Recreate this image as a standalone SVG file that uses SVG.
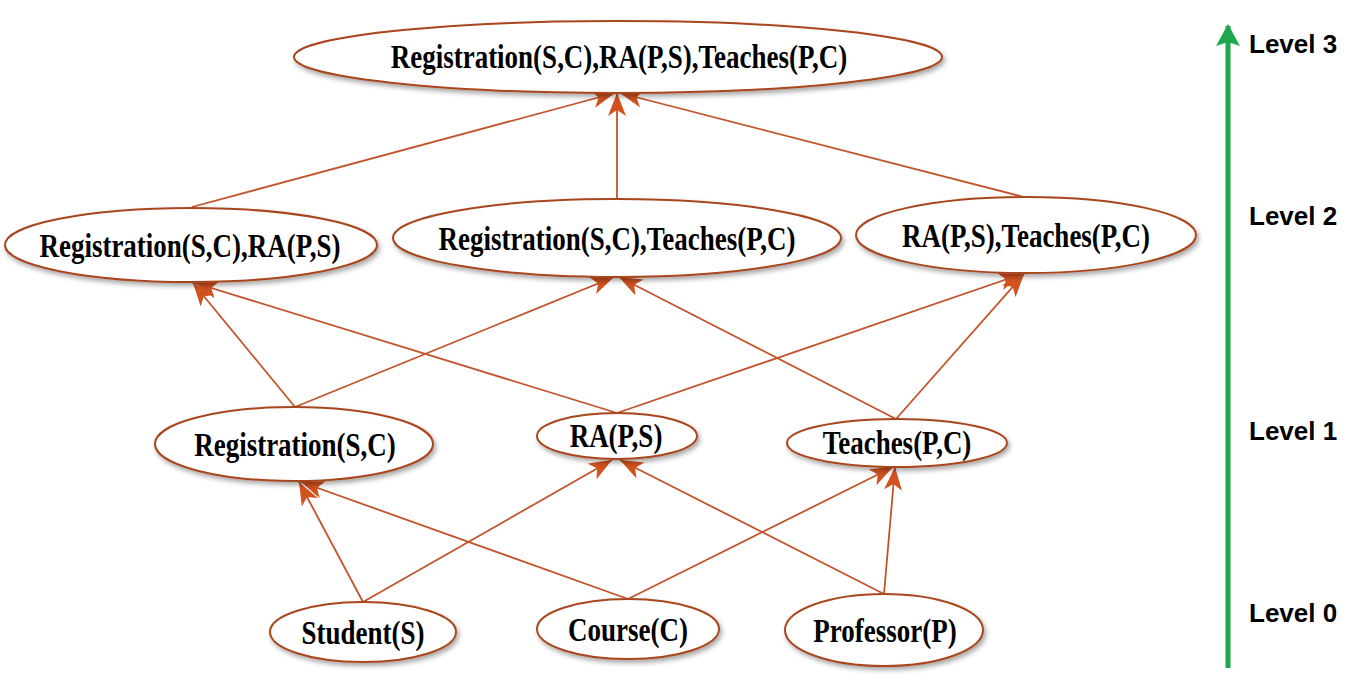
<svg xmlns="http://www.w3.org/2000/svg" width="1367" height="686" viewBox="0 0 1367 686">
<style>
.node ellipse{fill:#fff;stroke:#a9461f;stroke-width:2;filter:url(#sh)}
.node text{font-family:"Liberation Serif","Times New Roman",serif;font-weight:bold;font-size:27px;text-anchor:middle;fill:#000}
.edges line{stroke:#c2542b;stroke-width:1.8;marker-end:url(#ah)}
.lvl{font-family:"Liberation Sans",Arial,sans-serif;font-weight:bold;font-size:26px;fill:#000}
</style>
<defs>
<filter id="sh" x="-10%" y="-20%" width="120%" height="150%">
<feDropShadow dx="2" dy="3" stdDeviation="2.5" flood-color="#000" flood-opacity="0.35"/>
</filter>
<marker id="ah" markerUnits="userSpaceOnUse" markerWidth="26" markerHeight="20" refX="23" refY="9" orient="auto">
<path d="M0,0 L23,9 L0,18 L6,9 z" fill="#d2521e"/>
</marker>
<marker id="gh" markerUnits="userSpaceOnUse" markerWidth="26" markerHeight="26" refX="20" refY="12" orient="auto">
<path d="M0,0 L22,12 L0,24 L4,12 z" fill="#1fa84b"/>
</marker>
</defs>
<rect width="1367" height="686" fill="#fff"/>
<g class="edges">
<line x1="192" y1="207" x2="615" y2="93"/>
<line x1="617" y1="199" x2="617" y2="93"/>
<line x1="1024" y1="197" x2="620" y2="93"/>
<line x1="295" y1="407" x2="193" y2="283"/>
<line x1="295" y1="407" x2="614" y2="277"/>
<line x1="617" y1="413" x2="195" y2="283"/>
<line x1="617" y1="413" x2="1022" y2="274"/>
<line x1="896" y1="419" x2="619" y2="277"/>
<line x1="896" y1="419" x2="1024" y2="274"/>
<line x1="363" y1="602" x2="299" y2="482"/>
<line x1="363" y1="602" x2="612" y2="460"/>
<line x1="628" y1="599" x2="301" y2="482"/>
<line x1="628" y1="599" x2="893" y2="467"/>
<line x1="884" y1="594" x2="620" y2="460"/>
<line x1="884" y1="594" x2="895" y2="467"/>
</g>
<g id="n-top" class="node"><ellipse cx="618" cy="57" rx="324" ry="36"/><text transform="translate(619,68) scale(1,1.22)">Registration(S,C),RA(P,S),Teaches(P,C)</text></g>
<g id="n-rs-ra" class="node"><ellipse cx="191" cy="245" rx="186" ry="37"/><text transform="translate(190,257) scale(1,1.22)">Registration(S,C),RA(P,S)</text></g>
<g id="n-rs-t" class="node"><ellipse cx="617" cy="238" rx="224" ry="39"/><text transform="translate(617,250) scale(1,1.22)">Registration(S,C),Teaches(P,C)</text></g>
<g id="n-ra-t" class="node"><ellipse cx="1026" cy="235" rx="170" ry="38"/><text transform="translate(1026,247) scale(1,1.22)">RA(P,S),Teaches(P,C)</text></g>
<g id="n-reg" class="node"><ellipse cx="294" cy="444" rx="139" ry="37"/><text transform="translate(295,456) scale(1,1.22)">Registration(S,C)</text></g>
<g id="n-ra" class="node"><ellipse cx="617" cy="436" rx="80" ry="23"/><text transform="translate(616,447) scale(1,1.22)">RA(P,S)</text></g>
<g id="n-t" class="node"><ellipse cx="897" cy="443" rx="110" ry="24"/><text transform="translate(897,454) scale(1,1.22)">Teaches(P,C)</text></g>
<g id="n-s" class="node"><ellipse cx="363" cy="632" rx="93" ry="30"/><text transform="translate(363,644) scale(1,1.22)">Student(S)</text></g>
<g id="n-c" class="node"><ellipse cx="628" cy="629" rx="91" ry="30"/><text transform="translate(628,641) scale(1,1.22)">Course(C)</text></g>
<g id="n-p" class="node"><ellipse cx="884" cy="630" rx="99" ry="36"/><text transform="translate(885,642) scale(1,1.22)">Professor(P)</text></g>
<g id="levels">
<line x1="1228" y1="668" x2="1228" y2="26" stroke="#1fa84b" stroke-width="5" marker-end="url(#gh)"/>
<text class="lvl" x="1249" y="53">Level 3</text>
<text class="lvl" x="1249" y="225">Level 2</text>
<text class="lvl" x="1249" y="440">Level 1</text>
<text class="lvl" x="1249" y="622">Level 0</text>
</g>
</svg>
